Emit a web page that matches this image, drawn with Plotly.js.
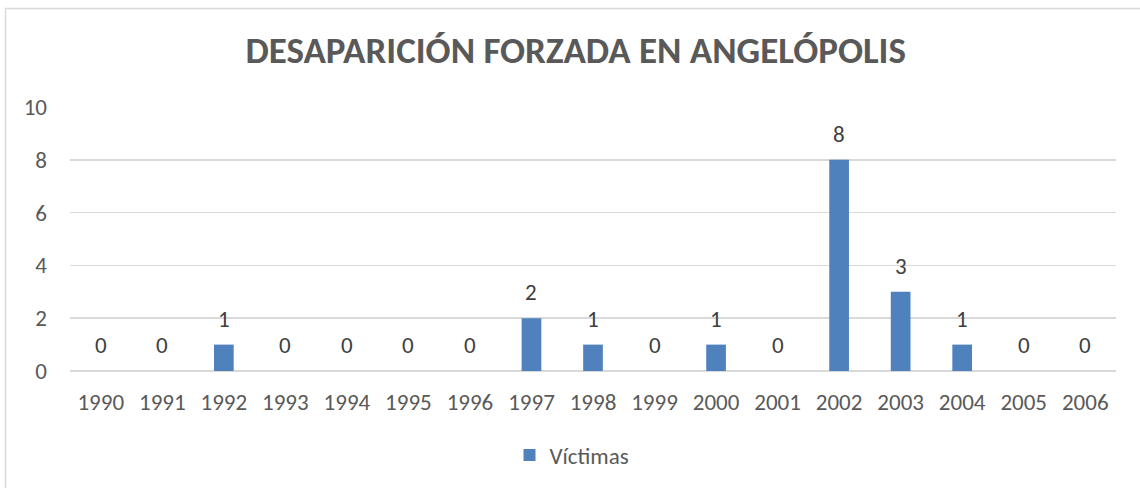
<!DOCTYPE html>
<html>
<head>
<meta charset="utf-8">
<script src="https://cdn.plot.ly/plotly-3.0.1.min.js"></script>
<style>
html,body{margin:0;padding:0;background:#fff;}
#chart{width:1140px;height:488px;}
</style>
</head>
<body>
<div id="chart"></div>
<script>
const years = ['1990','1991','1992','1993','1994','1995','1996','1997','1998','1999','2000','2001','2002','2003','2004','2005','2006'];
const victimas = [0,0,1,0,0,0,0,2,1,0,1,0,8,3,1,0,0];
const yTicks = [0,2,4,6,8,10];
const seriesName = 'Víctimas';
const titleText = 'DESAPARICIÓN FORZADA EN ANGELÓPOLIS';

const FONT = 'Carlito, "Open Sans", "Noto Sans", sans-serif';
const TXT = '#595959';
const BAR = '#4F81BD';
const FS = 23;

const W = 1140, H = 488;
const m = {l:70, r:24, t:107, b:117};

const annotations = years.map((y,i)=>({
  x: i, y: victimas[i], xref:'x', yref:'y',
  text: String(victimas[i]), showarrow:false,
  yanchor:'middle', yshift: 26,
  font:{family:FONT, size:FS, color:'#404040'}
}));

const pw = W - m.l - m.r, ph = H - m.t - m.b;
const px = v => (v - m.l)/pw;
const py = v => (H - m.b - v)/ph;

const data = [{
  type:'bar', x: years, y: victimas, name: seriesName,
  marker:{color:BAR, line:{width:0}},
  showlegend:true, hoverinfo:'skip'
}];

const layout = {
  width:W, height:H,
  margin:m,
  paper_bgcolor:'#fff', plot_bgcolor:'#fff',
  font:{family:FONT, color:TXT, size:FS},
  title:{text:'<b>'+titleText+'</b>', x:0.505, xanchor:'center', y:1-50/H, yanchor:'middle', yref:'container',
         font:{family:FONT, size:37, color:TXT}},
  bargap:0.68,
  xaxis:{type:'category', range:[-0.5, years.length-0.5], tickfont:{size:FS, color:TXT}, showgrid:false, zeroline:false,
         showline:false, ticks:'', ticklabelstandoff:15, fixedrange:true},
  yaxis:{range:[0,10], tickvals:yTicks, ticktext:yTicks.map(String), showgrid:true,
         gridcolor:'#D9D9D9', gridwidth:1.5, zeroline:true, zerolinecolor:'#D9D9D9', zerolinewidth:1.5,
         showline:false, ticks:'', ticklabelstandoff:22, tickfont:{size:FS, color:TXT}, fixedrange:true},
  legend:{orientation:'h', x:0.5 - 21/pw, xanchor:'center', y:py(455), yanchor:'middle',
          font:{size:FS, color:TXT}, itemwidth:30},
  annotations: annotations,
  shapes:[{type:'rect', xref:'paper', yref:'paper', x0:px(5.5), x1:px(1150), y0:py(8.5), y1:py(500),
           line:{color:'#D9D9D9', width:1.5}, fillcolor:'rgba(0,0,0,0)', layer:'below'}]
};

Plotly.newPlot('chart', data, layout, {displayModeBar:false, staticPlot:true});
</script>
</body>
</html>
